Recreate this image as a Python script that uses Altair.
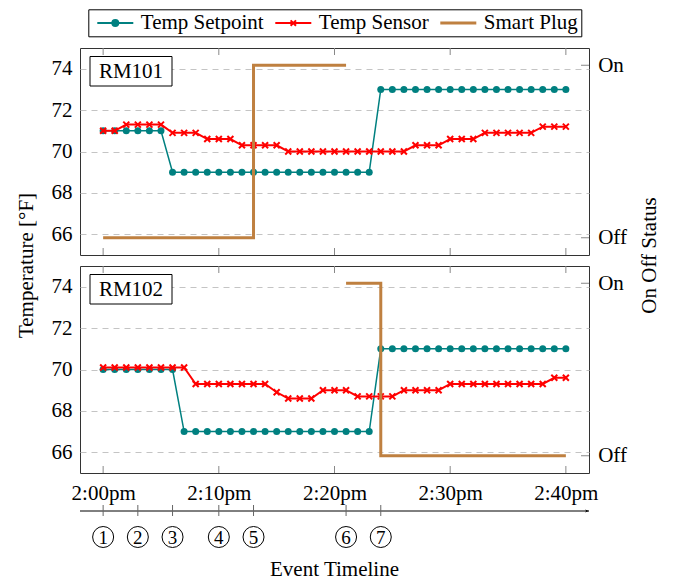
import altair as alt
import pandas as pd

# ---------------- data ----------------
minutes = list(range(41))

rm101_setpoint = [71, 71, 71, 71, 71, 71,
                  69, 69, 69, 69, 69, 69, 69, 69, 69, 69, 69, 69, 69, 69, 69, 69, 69, 69,
                  73, 73, 73, 73, 73, 73, 73, 73, 73, 73, 73, 73, 73, 73, 73, 73, 73]
rm101_sensor = [71.0, 71.0, 71.3, 71.3, 71.3, 71.3, 70.9, 70.9, 70.9, 70.6, 70.6, 70.6,
                70.3, 70.3, 70.3, 70.3, 70.0, 70.0, 70.0, 70.0, 70.0, 70.0, 70.0, 70.0,
                70.0, 70.0, 70.0, 70.3, 70.3, 70.3, 70.6, 70.6, 70.6, 70.9, 70.9, 70.9,
                70.9, 70.9, 71.2, 71.2, 71.2]
rm102_setpoint = [70, 70, 70, 70, 70, 70, 70,
                  67, 67, 67, 67, 67, 67, 67, 67, 67, 67, 67, 67, 67, 67, 67, 67, 67,
                  71, 71, 71, 71, 71, 71, 71, 71, 71, 71, 71, 71, 71, 71, 71, 71, 71]
rm102_sensor = [70.1, 70.1, 70.1, 70.1, 70.1, 70.1, 70.1, 70.1, 69.3, 69.3, 69.3, 69.3,
                69.3, 69.3, 69.3, 68.9, 68.6, 68.6, 68.6, 69.0, 69.0, 69.0, 68.7, 68.7,
                68.7, 68.7, 69.0, 69.0, 69.0, 69.0, 69.3, 69.3, 69.3, 69.3, 69.3, 69.3,
                69.3, 69.3, 69.3, 69.6, 69.6]

plug101_times = [0, 13, 21]
plug101_state = [0, 1, 1]
plug102_times = [21, 24, 40]
plug102_state = [1, 0, 0]

event_times = [0, 3, 6, 10, 13, 21, 24]
event_numbers = ["1", "2", "3", "4", "5", "6", "7"]
timeline_span = [-2, 42]
timeline_title = ["Event Timeline"]

x_tick_values = [0, 10, 20, 30, 40]
x_tick_labels = ["2:00pm", "2:10pm", "2:20pm", "2:30pm", "2:40pm"]
temp_ticks = [66, 68, 70, 72, 74]
status_values = [0, 1]
status_labels = ["Off", "On"]

series_names = ["Temp Setpoint", "Temp Sensor", "Smart Plug"]
series_colors = ["#008080", "#ff0000", "#bf8040"]
rooms = ["RM101", "RM102"]

x_domain = [-2, 42]
temp_domain = [65, 75]
status_domain = [-0.1, 1.1]

# ---------------- styling ----------------
FONT = "Liberation Serif"
FS = 21
W, H = 509, 207
TEAL, RED, BROWN = series_colors

x_scale = alt.Scale(domain=x_domain, nice=False, zero=False)
t_scale = alt.Scale(domain=temp_domain, nice=False, zero=False)
s_scale = alt.Scale(domain=status_domain, nice=False, zero=False)

x_label_expr = "[" + ",".join(f"'{l}'" for l in x_tick_labels) + "]" + \
    f"[indexof({x_tick_values}, datum.value)]"
s_label_expr = "[" + ",".join(f"'{l}'" for l in status_labels) + "]" + \
    f"[indexof({status_values}, datum.value)]"

CROSS = "M-1,-1L1,1M-1,1L1,-1"
LEG_SETPOINT = ("M-0.5,0H3.5M1.83,0A0.33,0.33 0 1 1 1.17,0A0.33,0.33 0 1 1 1.83,0"
                "M1.62,0A0.12,0.12 0 1 1 1.38,0A0.12,0.12 0 1 1 1.62,0")
LEG_SENSOR = "M-0.5,0H3.5M1.2,-0.3L1.8,0.3M1.2,0.3L1.8,-0.3"
LEG_PLUG = "M-0.5,-0.06H3.5M-0.5,0.06H3.5"
ARROW = "M0,0L-2,-0.8L-1.4,0L-2,0.8Z"


def make_panel(room, setpoint, sensor, plug_t, plug_s, top):
    if top:
        xaxis = None
    else:
        xaxis = alt.Axis(values=x_tick_values, labelExpr=x_label_expr, title=None,
                         ticks=False, tickSize=0, domain=False, grid=False,
                         labelPadding=9.5, labelFont=FONT, labelFontSize=FS,
                         labelColor="black", labelFlush=False)

    def X(field):
        return alt.X(field, type="quantitative", scale=x_scale, axis=xaxis)

    ykw = dict(values=temp_ticks, grid=True, gridDash=[6, 5], gridColor="#c4c4c4",
               gridWidth=1, ticks=False, domain=False, labelPadding=8,
               labelFont=FONT, labelFontSize=FS, labelColor="black")
    if top:
        ykw.update(title="Temperature [°F]", titleFont=FONT, titleFontSize=FS,
                   titleFontWeight="normal", titleColor="black", titleAngle=270,
                   titleX=-54, titleY=217, titleAlign="center", titleBaseline="middle")
    else:
        ykw.update(title=None)
    yaxis = alt.Axis(**ykw)

    def YT(field):
        return alt.Y(field, type="quantitative", scale=t_scale, axis=yaxis)

    skw = dict(orient="right", values=status_values, labelExpr=s_label_expr,
               ticks=False, domain=False, grid=False, labelPadding=8.7,
               labelFont=FONT, labelFontSize=FS, labelColor="black")
    if top:
        skw.update(title="On Off Status", titleFont=FONT, titleFontSize=FS,
                   titleFontWeight="normal", titleColor="black", titleAngle=270,
                   titleX=60, titleY=207, titleAlign="center", titleBaseline="middle")
    else:
        skw.update(title=None)
    saxis = alt.Axis(**skw)

    def YS(field):
        return alt.Y(field, type="quantitative", scale=s_scale, axis=saxis)

    df = pd.DataFrame({"m": minutes, "sp": setpoint, "se": sensor})

    sp_line = alt.Chart(df).mark_line(color=TEAL, strokeWidth=1.5).encode(x=X("m"), y=YT("sp"))
    se_line = alt.Chart(df).mark_line(color=RED, strokeWidth=2).encode(x=X("m"), y=YT("se"))
    sp_pts = alt.Chart(df).mark_point(shape="circle", filled=True, color=TEAL, size=49,
                                      opacity=1, strokeWidth=0).encode(x=X("m"), y=YT("sp"))
    se_pts = alt.Chart(df).mark_point(shape=CROSS, filled=False, color=RED, size=36,
                                      opacity=1, strokeWidth=2).encode(x=X("m"), y=YT("se"))

    tick_df = pd.DataFrame({"t": x_tick_values})
    ticks_top = alt.Chart(tick_df).mark_rule(color="#888888", strokeWidth=1).encode(
        x=X("t"), y=alt.value(0), y2=alt.value(7))
    ticks_bot = alt.Chart(tick_df).mark_rule(color="#888888", strokeWidth=1).encode(
        x=X("t"), y=alt.value(H - 7), y2=alt.value(H))

    room_df = pd.DataFrame({"room": [room]})
    room_box = alt.Chart(room_df).mark_rect(fill="white", stroke="black", strokeWidth=1).encode(
        x=alt.value(10), x2=alt.value(92), y=alt.value(8.5), y2=alt.value(38))
    room_txt = alt.Chart(room_df).mark_text(font=FONT, fontSize=FS, color="black",
                                            baseline="middle", align="center").encode(
        x=alt.value(51), y=alt.value(23.5), text="room:N")

    temp_layers = [sp_line, sp_pts, se_line, se_pts, ticks_top, ticks_bot, room_box, room_txt]

    if top:
        leg = alt.Legend(title=None, orient="none", legendX=8.3, legendY=-38.7,
                         direction="horizontal", symbolSize=324, symbolStrokeWidth=2,
                         labelFont=FONT, labelFontSize=FS, labelColor="black",
                         labelOffset=28.5, columnPadding=5, padding=3,
                         strokeColor="black", fillColor="white")
        leg_df = pd.DataFrame({"series": series_names})
        legend_layer = alt.Chart(leg_df).mark_point(filled=False, opacity=1, strokeWidth=2).encode(
            color=alt.Color("series:N", scale=alt.Scale(domain=series_names, range=series_colors), legend=leg),
            shape=alt.Shape("series:N", scale=alt.Scale(domain=series_names,
                                                        range=[LEG_SETPOINT, LEG_SENSOR, LEG_PLUG]), legend=leg),
        ).transform_filter("false")
        temp_layers.append(legend_layer)
    else:
        span_df = pd.DataFrame({"x0": [timeline_span[0]], "x1": [timeline_span[1]]})
        ev_df = pd.DataFrame({"t": event_times, "n": event_numbers})
        arrow_line = alt.Chart(span_df).mark_rule(color="black", strokeWidth=1).encode(
            x=X("x0"), x2="x1:Q", y=alt.value(245))
        arrow_head = alt.Chart(span_df).mark_point(shape=ARROW, filled=True, color="black",
                                                   size=16, opacity=1, strokeWidth=0).encode(
            x=X("x1"), y=alt.value(245))
        ev_ticks = alt.Chart(ev_df).mark_rule(color="#666666", strokeWidth=1).encode(
            x=X("t"), y=alt.value(239), y2=alt.value(250))
        ev_circ = alt.Chart(ev_df).mark_point(shape="circle", filled=False, color="black",
                                              size=441, opacity=1, strokeWidth=1).encode(
            x=X("t"), y=alt.value(271))
        ev_num = alt.Chart(ev_df).mark_text(font=FONT, fontSize=19, color="black",
                                            baseline="middle", align="center", dy=1).encode(
            x=X("t"), y=alt.value(271), text="n:N")
        tl_df = pd.DataFrame({"label": timeline_title})
        tl_txt = alt.Chart(tl_df).mark_text(font=FONT, fontSize=FS, color="black",
                                            baseline="alphabetic", align="center").encode(
            x=alt.value(W / 2), y=alt.value(310), text="label:N")
        temp_layers += [arrow_line, arrow_head, ev_ticks, ev_circ, ev_num, tl_txt]

    temp = alt.layer(*temp_layers)

    plug_df = pd.DataFrame({"t": plug_t, "s": plug_s})
    plug_line = alt.Chart(plug_df).mark_line(color=BROWN, strokeWidth=3, interpolate="step-after").encode(
        x=X("t"), y=YS("s"))
    st_df = pd.DataFrame({"v": status_values})
    st_ticks = alt.Chart(st_df).mark_rule(color="#888888", strokeWidth=1).encode(
        x=alt.value(W - 8), x2=alt.value(W), y=YS("v"))
    plug = alt.layer(plug_line, st_ticks)

    return alt.layer(temp, plug).resolve_scale(y="independent").properties(width=W, height=H)


top_panel = make_panel(rooms[0], rm101_setpoint, rm101_sensor, plug101_times, plug101_state, True)
bot_panel = make_panel(rooms[1], rm102_setpoint, rm102_sensor, plug102_times, plug102_state, False)

chart = alt.vconcat(top_panel, bot_panel, spacing=11, bounds="flush").resolve_scale(
    color="independent", shape="independent"
).properties(
    padding={"left": 6, "top": 0, "right": 5, "bottom": 5}
).configure_view(stroke="#333333", strokeWidth=1)

chart.save("out.html", embed_options={"renderer": "svg", "actions": False})
